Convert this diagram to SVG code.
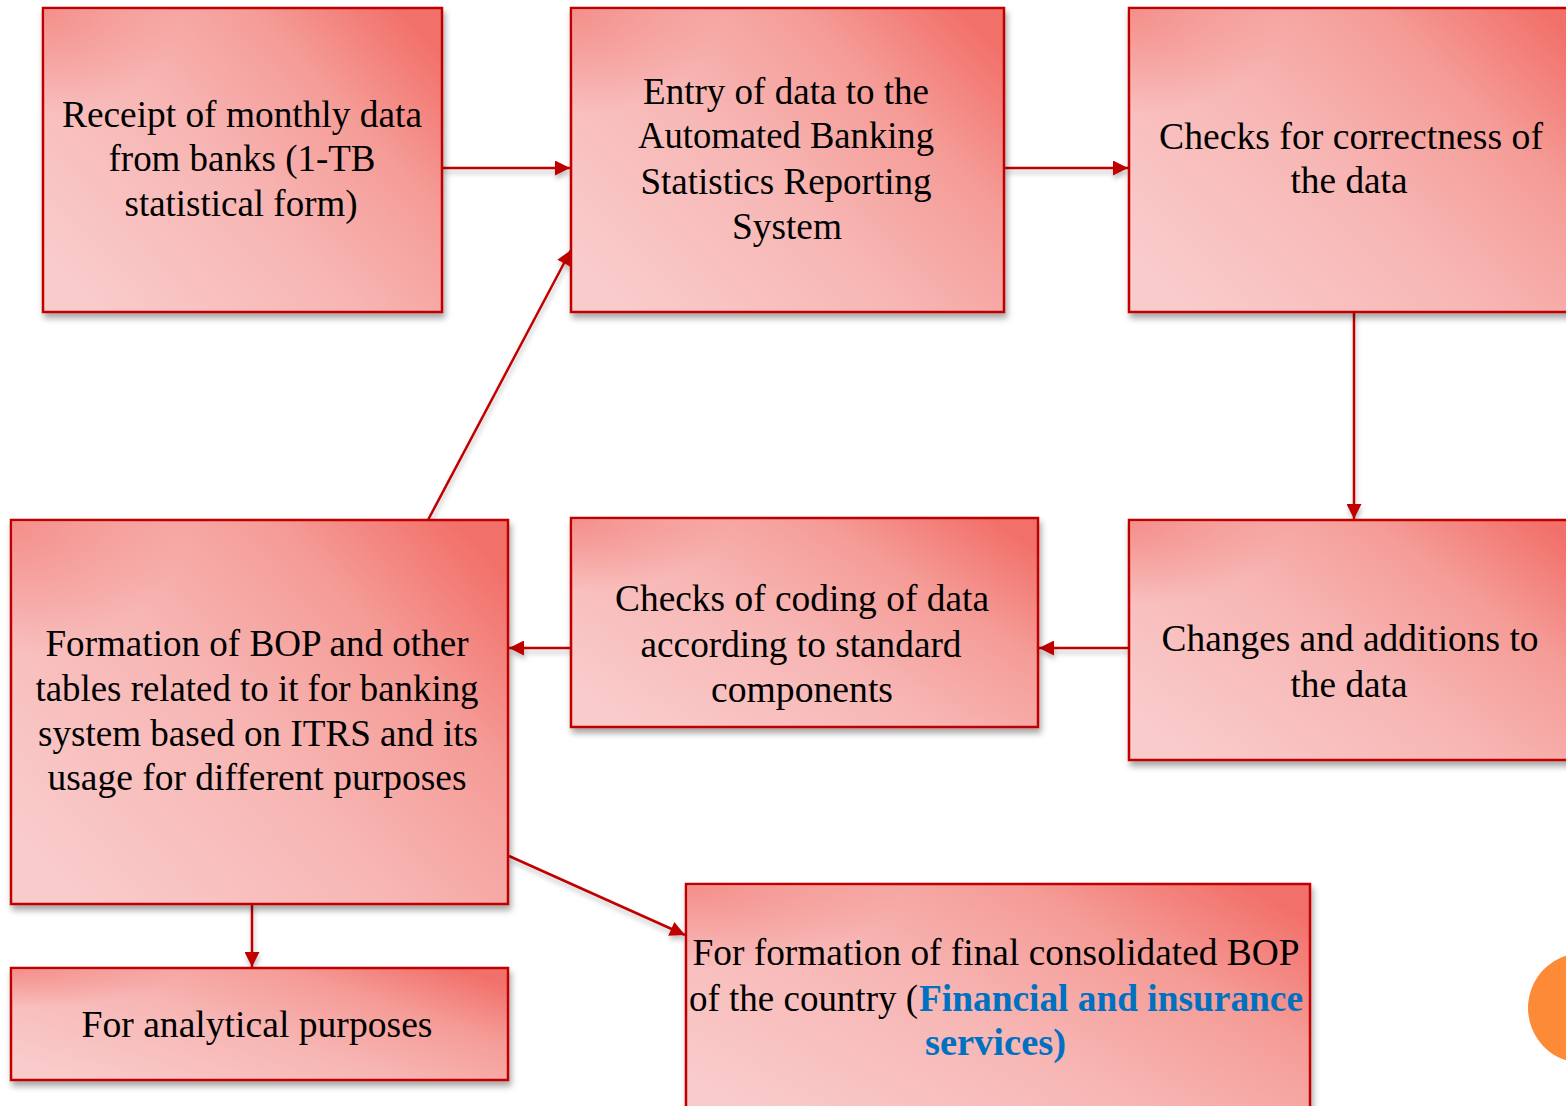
<svg xmlns="http://www.w3.org/2000/svg" width="1566" height="1106" viewBox="0 0 1566 1106">
<defs>
<linearGradient id="g" x1="0" y1="0.85" x2="1" y2="0.15">
<stop offset="0" stop-color="#f9cccc"/>
<stop offset="0.45" stop-color="#f7b6b4"/>
<stop offset="0.75" stop-color="#f59c97"/>
<stop offset="1" stop-color="#f2706a"/>
</linearGradient>
<radialGradient id="tl" cx="0" cy="0" r="0.35">
<stop offset="0" stop-color="#f37d77" stop-opacity="0.7"/>
<stop offset="1" stop-color="#f37d77" stop-opacity="0"/>
</radialGradient>
<filter id="sh" x="-10%" y="-10%" width="125%" height="130%">
<feDropShadow dx="2" dy="5" stdDeviation="3" flood-color="#000" flood-opacity="0.35"/>
</filter>
<filter id="ash" x="-20%" y="-20%" width="140%" height="140%">
<feDropShadow dx="1" dy="4" stdDeviation="2.5" flood-color="#000" flood-opacity="0.25"/>
</filter>
<marker id="ah" viewBox="0 0 10 10" refX="10" refY="5" markerWidth="6.5" markerHeight="6" markerUnits="strokeWidth" orient="auto">
<path d="M0,0 L10,5 L0,10 z" fill="#c00000"/>
</marker>
</defs>
<style>
.box{fill:url(#g);stroke:#c00000;stroke-width:2.5;filter:url(#sh)}
.ov{fill:url(#tl);stroke:none}
.t{font-family:"Liberation Serif","Times New Roman",serif;font-size:38px;fill:#000;text-anchor:middle}
.ts{font-family:"Liberation Serif","Times New Roman",serif;font-size:38px;fill:#000}
.b{font-family:"Liberation Serif","Times New Roman",serif;font-size:38px;font-weight:bold;fill:#0070c0}
.c{fill:none;stroke:#c00000;stroke-width:2.5;marker-end:url(#ah)}
</style>
<g id="connectors" filter="url(#ash)">
<line class="c" x1="443" y1="168" x2="570" y2="168"/>
<line class="c" x1="1004" y1="168" x2="1128" y2="168"/>
<line class="c" x1="1354" y1="312" x2="1354" y2="519"/>
<line class="c" x1="1129" y1="648" x2="1039" y2="648"/>
<line class="c" x1="571" y1="648" x2="509" y2="648"/>
<line class="c" x1="428" y1="520" x2="571" y2="250"/>
<line class="c" x1="252" y1="904" x2="252" y2="967"/>
<line class="c" x1="509" y1="856" x2="685" y2="935"/>
</g>
<g id="n1">
<rect class="box" x="43" y="8" width="399" height="304"/>
<rect class="ov" x="44.5" y="9.5" width="396" height="301"/>
<text class="t" x="242" y="127" textLength="360" lengthAdjust="spacingAndGlyphs">Receipt of monthly data</text>
<text class="t" x="242" y="171" textLength="267" lengthAdjust="spacingAndGlyphs">from banks (1-TB</text>
<text class="t" x="241" y="216" textLength="233" lengthAdjust="spacingAndGlyphs">statistical form)</text>
</g>
<g id="n2">
<rect class="box" x="571" y="8" width="433" height="304"/>
<rect class="ov" x="572.5" y="9.5" width="430" height="301"/>
<text class="t" x="786" y="104" textLength="286" lengthAdjust="spacingAndGlyphs">Entry of data to the</text>
<text class="t" x="786" y="148" textLength="296" lengthAdjust="spacingAndGlyphs">Automated Banking</text>
<text class="t" x="786" y="194" textLength="291" lengthAdjust="spacingAndGlyphs">Statistics Reporting</text>
<text class="t" x="787" y="239" textLength="110" lengthAdjust="spacingAndGlyphs">System</text>
</g>
<g id="n3">
<rect class="box" x="1129" y="8" width="460" height="304"/>
<rect class="ov" x="1130.5" y="9.5" width="457" height="301"/>
<text class="t" x="1351" y="149" textLength="384" lengthAdjust="spacingAndGlyphs">Checks for correctness of</text>
<text class="t" x="1349" y="193" textLength="117" lengthAdjust="spacingAndGlyphs">the data</text>
</g>
<g id="n4">
<rect class="box" x="1129" y="520" width="460" height="240"/>
<rect class="ov" x="1130.5" y="521.5" width="457" height="237"/>
<text class="t" x="1350" y="651" textLength="377" lengthAdjust="spacingAndGlyphs">Changes and additions to</text>
<text class="t" x="1349" y="697" textLength="117" lengthAdjust="spacingAndGlyphs">the data</text>
</g>
<g id="n5">
<rect class="box" x="571" y="518" width="467" height="209"/>
<rect class="ov" x="572.5" y="519.5" width="464" height="206"/>
<text class="t" x="802" y="611" textLength="374" lengthAdjust="spacingAndGlyphs">Checks of coding of data</text>
<text class="t" x="801" y="657" textLength="321" lengthAdjust="spacingAndGlyphs">according to standard</text>
<text class="t" x="802" y="702" textLength="182" lengthAdjust="spacingAndGlyphs">components</text>
</g>
<g id="n6">
<rect class="box" x="11" y="520" width="497" height="384"/>
<rect class="ov" x="12.5" y="521.5" width="494" height="381"/>
<text class="t" x="257" y="656" textLength="423" lengthAdjust="spacingAndGlyphs">Formation of BOP and other</text>
<text class="t" x="257" y="701" textLength="443" lengthAdjust="spacingAndGlyphs">tables related to it for banking</text>
<text class="t" x="258" y="746" textLength="440" lengthAdjust="spacingAndGlyphs">system based on ITRS and its</text>
<text class="t" x="257" y="790" textLength="419" lengthAdjust="spacingAndGlyphs">usage for different purposes</text>
</g>
<g id="n7">
<rect class="box" x="11" y="968" width="497" height="112"/>
<rect class="ov" x="12.5" y="969.5" width="494" height="109"/>
<text class="t" x="257" y="1037" textLength="351" lengthAdjust="spacingAndGlyphs">For analytical purposes</text>
</g>
<g id="n8">
<rect class="box" x="686" y="884" width="624" height="240"/>
<rect class="ov" x="687.5" y="885.5" width="621" height="237"/>
<text class="t" x="996" y="965" textLength="607" lengthAdjust="spacingAndGlyphs">For formation of final consolidated BOP</text>
<text class="ts" x="689" y="1011" textLength="229" lengthAdjust="spacingAndGlyphs">of the country (</text>
<text class="b" x="919" y="1011" textLength="384" lengthAdjust="spacingAndGlyphs">Financial and insurance</text>
<text class="b" x="925" y="1055" textLength="141" lengthAdjust="spacingAndGlyphs">services)</text>
</g>
<circle cx="1583" cy="1008" r="55" fill="#fd8a37"/>
</svg>
